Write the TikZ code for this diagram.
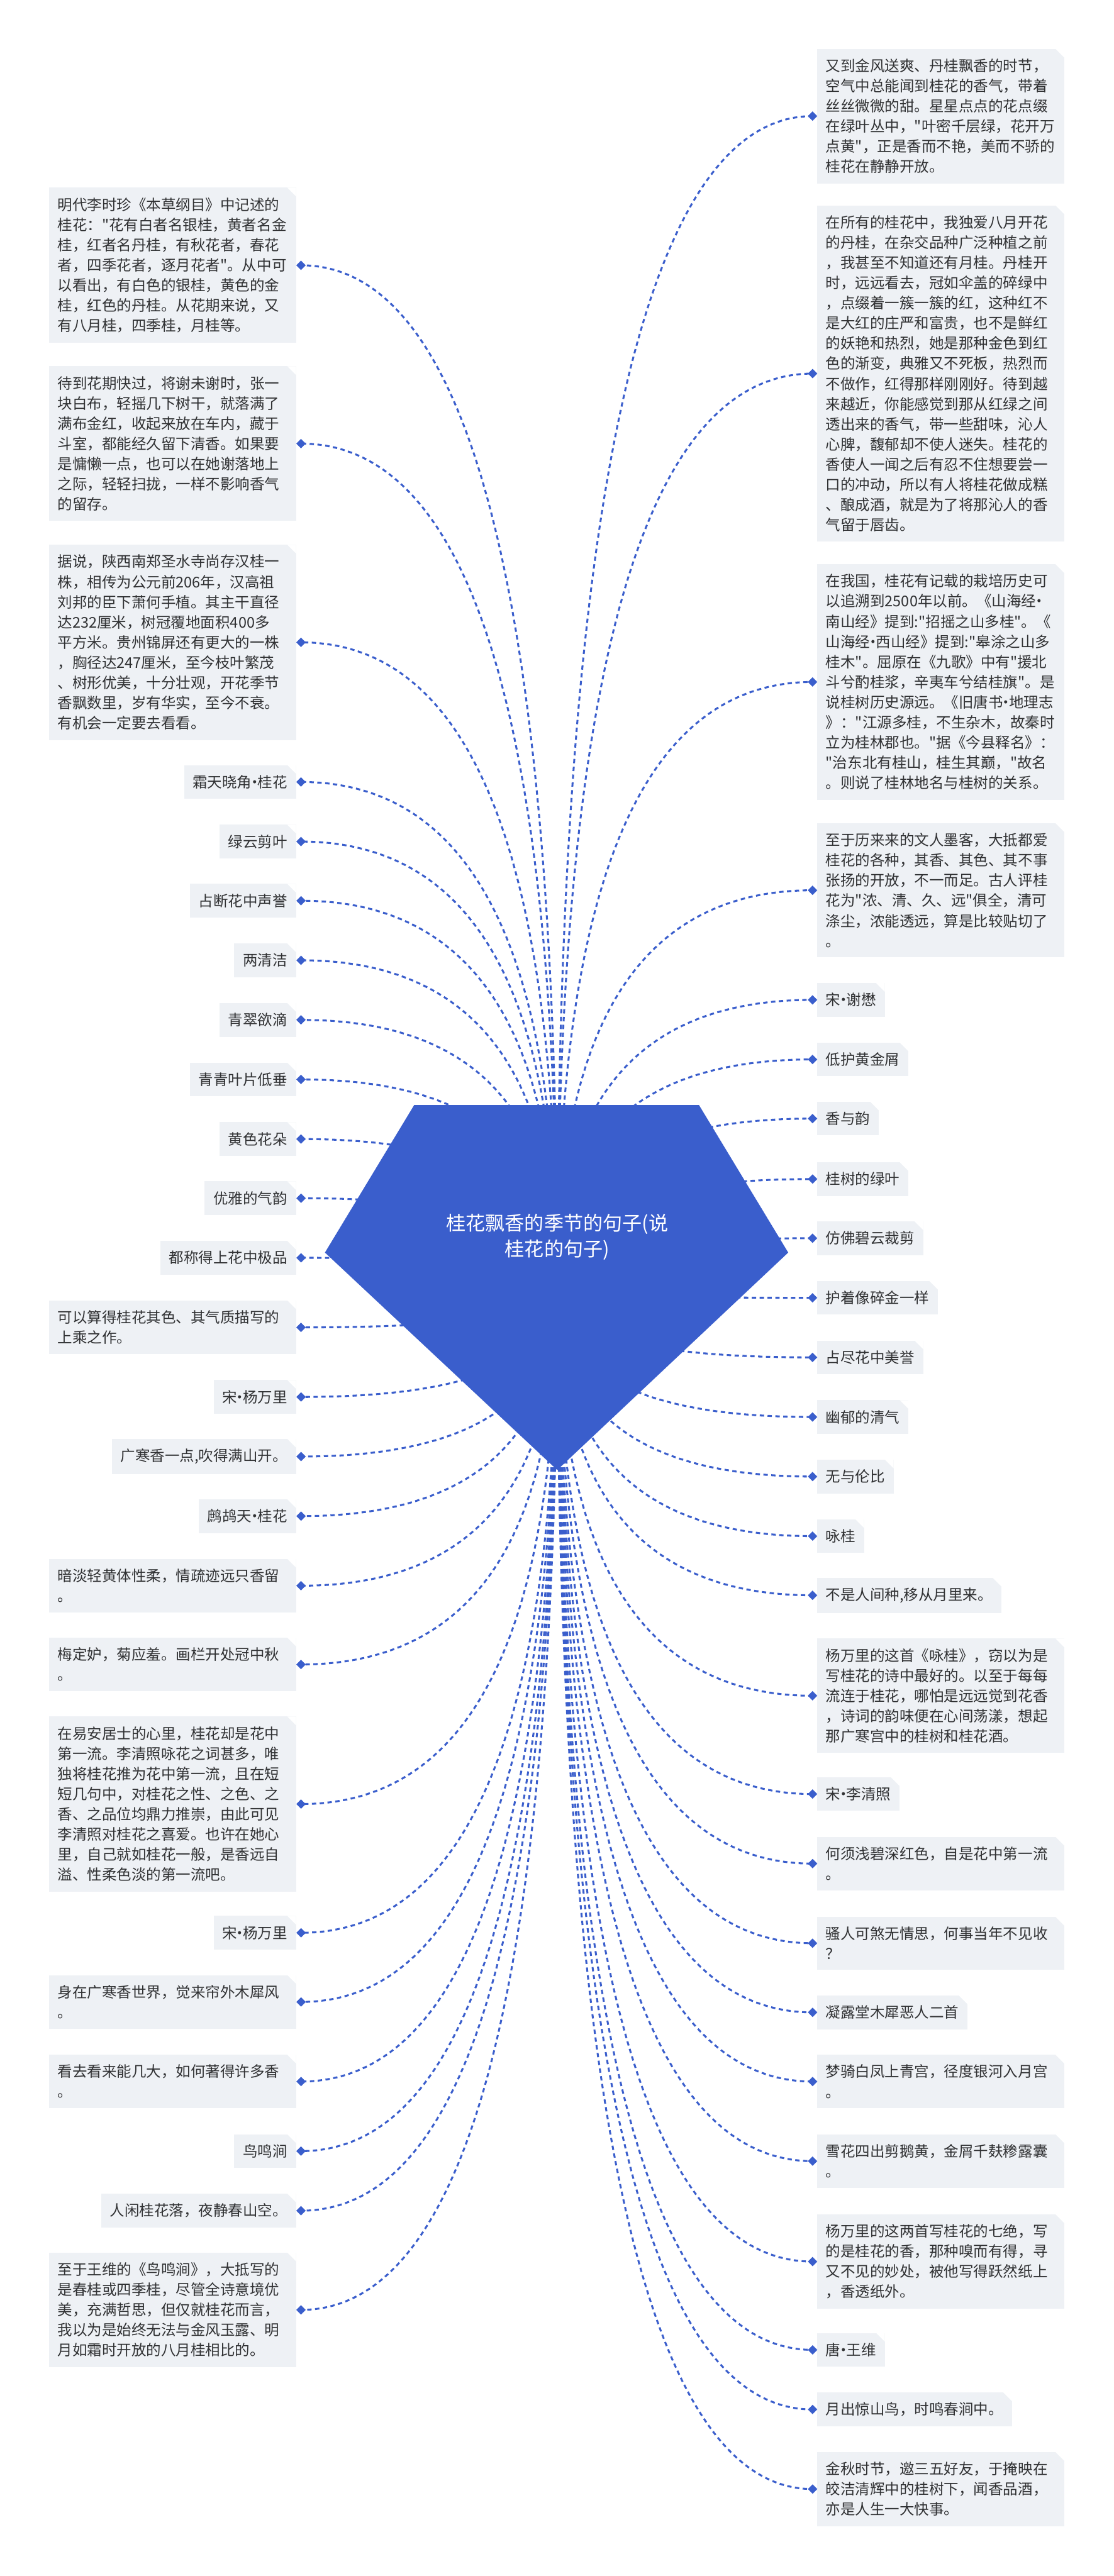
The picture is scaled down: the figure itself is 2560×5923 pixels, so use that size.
\documentclass[tikz,border=0pt]{standalone}
\usepackage{fontspec}
\setmainfont{Noto Sans CJK SC}[Ligatures=TeXOff]
\usetikzlibrary{shapes.geometric,calc}
\definecolor{gemblue}{HTML}{3A5ECC}
\definecolor{linkblue}{HTML}{3A5ECC}
\definecolor{leafbg}{HTML}{EEF1F5}
\definecolor{inkgray}{HTML}{303133}
\newcommand{\leaffont}{\fontsize{17pt}{23.2pt}\selectfont}
\newcommand{\gemfont}{\fontsize{22.5pt}{30pt}\selectfont}
\newcommand{\gdot}{\makebox[0.4em]{·}}
\begin{document}
\begin{tikzpicture}[
  x=0.5pt, y=-0.5pt,
  leaf/.style={fill=leafbg, text=inkgray, font=\leaffont,
               inner xsep=10pt, inner ysep=11.5pt,
               path picture={\fill[white] ([xshift=-10pt]path picture bounding box.north east)
                 -- (path picture bounding box.north east)
                 -- ([yshift=-10pt]path picture bounding box.north east) -- cycle;}},
  wide/.style={leaf, text width=264pt, align=left},
  dmd/.style={diamond, fill=linkblue, inner sep=0pt, minimum width=11pt, minimum height=11pt},
  link/.style={draw=linkblue, line width=2.2pt, dash pattern=on 5pt off 4pt}
]
\useasboundingbox (0,0) rectangle (2560,5923);

% left column
\node[wide, anchor=east] (l1) at (681,610) {明代李时珍《本草纲目》中记述的\\桂花："花有白者名银桂，黄者名金\\桂，红者名丹桂，有秋花者，春花\\者，四季花者，逐月花者"。从中可\\以看出，有白色的银桂，黄色的金\\桂，红色的丹桂。从花期来说，又\\有八月桂，四季桂，月桂等。};
\node[wide, anchor=east] (l2) at (681,1020) {待到花期快过，将谢未谢时，张一\\块白布，轻摇几下树干，就落满了\\满布金红，收起来放在车内，藏于\\斗室，都能经久留下清香。如果要\\是慵懒一点，也可以在她谢落地上\\之际，轻轻扫拢，一样不影响香气\\的留存。};
\node[wide, anchor=east] (l3) at (681,1477) {据说，陕西南郑圣水寺尚存汉桂一\\株，相传为公元前206年，汉高祖\\刘邦的臣下萧何手植。其主干直径\\达232厘米，树冠覆地面积400多\\平方米。贵州锦屏还有更大的一株\\，胸径达247厘米，至今枝叶繁茂\\、树形优美，十分壮观，开花季节\\香飘数里，岁有华实，至今不衰。\\有机会一定要去看看。};
\node[leaf, anchor=east] (l4) at (681,1798) {霜天晓角\gdot 桂花};
\node[leaf, anchor=east] (l5) at (681,1935) {绿云剪叶};
\node[leaf, anchor=east] (l6) at (681,2071) {占断花中声誉};
\node[leaf, anchor=east] (l7) at (681,2208) {两清洁};
\node[leaf, anchor=east] (l8) at (681,2345) {青翠欲滴};
\node[leaf, anchor=east] (l9) at (681,2482) {青青叶片低垂};
\node[leaf, anchor=east] (l10) at (681,2619) {黄色花朵};
\node[leaf, anchor=east] (l11) at (681,2755) {优雅的气韵};
\node[leaf, anchor=east] (l12) at (681,2892) {都称得上花中极品};
\node[wide, anchor=east] (l13) at (681,3052) {可以算得桂花其色、其气质描写的\\上乘之作。};
\node[leaf, anchor=east] (l14) at (681,3212) {宋\gdot 杨万里};
\node[leaf, anchor=east] (l15) at (681,3349) {广寒香一点,吹得满山开。};
\node[leaf, anchor=east] (l16) at (681,3486) {鹧鸪天\gdot 桂花};
\node[wide, anchor=east] (l17) at (681,3646) {暗淡轻黄体性柔，情疏迹远只香留\\。};
\node[wide, anchor=east] (l18) at (681,3827) {梅定妒，菊应羞。画栏开处冠中秋\\。};
\node[wide, anchor=east] (l19) at (681,4148) {在易安居士的心里，桂花却是花中\\第一流。李清照咏花之词甚多，唯\\独将桂花推为花中第一流，且在短\\短几句中，对桂花之性、之色、之\\香、之品位均鼎力推崇，由此可见\\李清照对桂花之喜爱。也许在她心\\里，自己就如桂花一般，是香远自\\溢、性柔色淡的第一流吧。};
\node[leaf, anchor=east] (l20) at (681,4444) {宋\gdot 杨万里};
\node[wide, anchor=east] (l21) at (681,4603) {身在广寒香世界，觉来帘外木犀风\\。};
\node[wide, anchor=east] (l22) at (681,4786) {看去看来能几大，如何著得许多香\\。};
\node[leaf, anchor=east] (l23) at (681,4946) {鸟鸣涧};
\node[leaf, anchor=east] (l24) at (681,5083) {人闲桂花落，夜静春山空。};
\node[wide, anchor=east] (l25) at (681,5311) {至于王维的《鸟鸣涧》，大抵写的\\是春桂或四季桂，尽管全诗意境优\\美，充满哲思，但仅就桂花而言，\\我以为是始终无法与金风玉露、明\\月如霜时开放的八月桂相比的。};

% right column
\node[wide, anchor=west] (r1) at (1878,267) {又到金风送爽、丹桂飘香的时节，\\空气中总能闻到桂花的香气，带着\\丝丝微微的甜。星星点点的花点缀\\在绿叶丛中，"叶密千层绿，花开万\\点黄"，正是香而不艳，美而不骄的\\桂花在静静开放。};
\node[wide, anchor=west] (r2) at (1878,859) {在所有的桂花中，我独爱八月开花\\的丹桂，在杂交品种广泛种植之前\\，我甚至不知道还有月桂。丹桂开\\时，远远看去，冠如伞盖的碎绿中\\，点缀着一簇一簇的红，这种红不\\是大红的庄严和富贵，也不是鲜红\\的妖艳和热烈，她是那种金色到红\\色的渐变，典雅又不死板，热烈而\\不做作，红得那样刚刚好。待到越\\来越近，你能感觉到那从红绿之间\\透出来的香气，带一些甜味，沁人\\心脾，馥郁却不使人迷失。桂花的\\香使人一闻之后有忍不住想要尝一\\口的冲动，所以有人将桂花做成糕\\、酿成酒，就是为了将那沁人的香\\气留于唇齿。};
\node[wide, anchor=west] (r3) at (1878,1568) {在我国，桂花有记载的栽培历史可\\以追溯到2500年以前。《山海经\gdot\\南山经》提到:"招摇之山多桂"。《\\山海经\gdot 西山经》提到:"皋涂之山多\\桂木"。屈原在《九歌》中有"援北\\斗兮酌桂浆，辛夷车兮结桂旗"。是\\说桂树历史源远。《旧唐书\gdot 地理志\\》："江源多桂，不生杂木，故秦时\\立为桂林郡也。"据《今县释名》：\\"治东北有桂山，桂生其巅，"故名\\。则说了桂林地名与桂树的关系。};
\node[wide, anchor=west] (r4) at (1878,2047) {至于历来来的文人墨客，大抵都爱\\桂花的各种，其香、其色、其不事\\张扬的开放，不一而足。古人评桂\\花为"浓、清、久、远"俱全，清可\\涤尘，浓能透远，算是比较贴切了\\。};
\node[leaf, anchor=west] (r5) at (1878,2299) {宋\gdot 谢懋};
\node[leaf, anchor=west] (r6) at (1878,2436) {低护黄金屑};
\node[leaf, anchor=west] (r7) at (1878,2572) {香与韵};
\node[leaf, anchor=west] (r8) at (1878,2711) {桂树的绿叶};
\node[leaf, anchor=west] (r9) at (1878,2847) {仿佛碧云裁剪};
\node[leaf, anchor=west] (r10) at (1878,2984) {护着像碎金一样};
\node[leaf, anchor=west] (r11) at (1878,3121) {占尽花中美誉};
\node[leaf, anchor=west] (r12) at (1878,3258) {幽郁的清气};
\node[leaf, anchor=west] (r13) at (1878,3395) {无与伦比};
\node[leaf, anchor=west] (r14) at (1878,3532) {咏桂};
\node[leaf, anchor=west] (r15) at (1878,3668) {不是人间种,移从月里来。};
\node[wide, anchor=west] (r16) at (1878,3899) {杨万里的这首《咏桂》，窃以为是\\写桂花的诗中最好的。以至于每每\\流连于桂花，哪怕是远远觉到花香\\，诗词的韵味便在心间荡漾，想起\\那广寒宫中的桂树和桂花酒。};
\node[leaf, anchor=west] (r17) at (1878,4125) {宋\gdot 李清照};
\node[wide, anchor=west] (r18) at (1878,4285) {何须浅碧深红色，自是花中第一流\\。};
\node[wide, anchor=west] (r19) at (1878,4468) {骚人可煞无情思，何事当年不见收\\？};
\node[leaf, anchor=west] (r20) at (1878,4627) {凝露堂木犀恶人二首};
\node[wide, anchor=west] (r21) at (1878,4786) {梦骑白凤上青宫，径度银河入月宫\\。};
\node[wide, anchor=west] (r22) at (1878,4969) {雪花四出剪鹅黄，金屑千麸糁露囊\\。};
\node[wide, anchor=west] (r23) at (1878,5200) {杨万里的这两首写桂花的七绝，写\\的是桂花的香，那种嗅而有得，寻\\又不见的妙处，被他写得跃然纸上\\，香透纸外。};
\node[leaf, anchor=west] (r24) at (1878,5403) {唐\gdot 王维};
\node[leaf, anchor=west] (r25) at (1878,5540) {月出惊山鸟，时鸣春涧中。};
\node[wide, anchor=west] (r26) at (1878,5723) {金秋时节，邀三五好友，于掩映在\\皎洁清辉中的桂树下，闻香品酒，\\亦是人生一大快事。};

% diamond tips
\foreach \i in {1,...,25} \node[dmd] (dl\i) at ([xshift=5.5pt]l\i.east) {};
\foreach \i in {1,...,26} \node[dmd] (dr\i) at ([xshift=-5pt]r\i.west) {};

% connectors from the hub
\coordinate (hub) at (1281,2960);
\foreach \i in {1,...,25}
  \draw[link] (hub) .. controls ($(hub)!0.667!(hub |- dl\i)$) and ($(dl\i)!0.667!(hub |- dl\i)$) .. (dl\i.center);
\foreach \i in {1,...,26}
  \draw[link] (hub) .. controls ($(hub)!0.667!(hub |- dr\i)$) and ($(dr\i)!0.667!(hub |- dr\i)$) .. (dr\i.center);

% central gem
\fill[gemblue] (952,2541) -- (1607,2541) -- (1812,2880) -- (1281,3380) -- (747,2880) -- cycle;
\node[text=white, font=\gemfont, align=center] (root) at (1281,2844) {桂花飘香的季节的句子(说\\桂花的句子)};
\end{tikzpicture}
\end{document}
